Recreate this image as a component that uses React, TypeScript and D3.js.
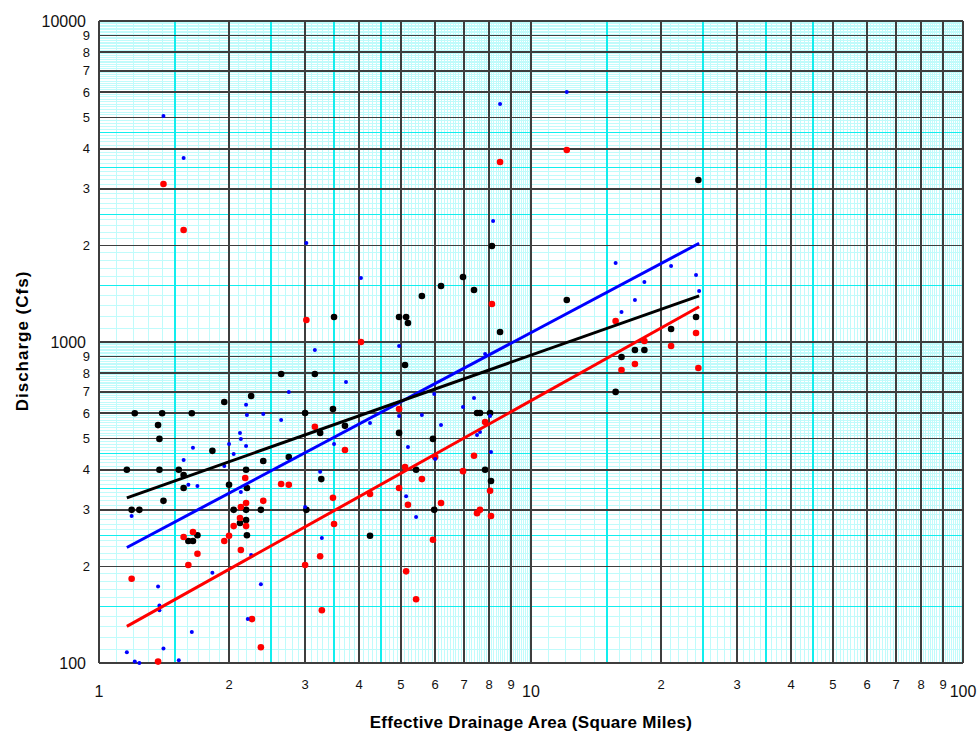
import React, { useEffect, useRef } from "react";
import * as d3 from "d3";

// [drainage area (sq mi), discharge (cfs)]
const blackPoints: [number, number][] = [
  [1.16, 400], [1.19, 300], [1.24, 300], [1.21, 600], [1.40, 600], [1.64, 600], [1.37, 551], [1.38, 499],
  [1.38, 400], [1.41, 320], [1.53, 400], [1.57, 385], [1.57, 351], [1.61, 240], [1.65, 240], [1.69, 250],
  [1.83, 458], [1.95, 650], [2.0, 359], [2.05, 300], [2.12, 273], [2.20, 351], [2.19, 400], [2.19, 300],
  [2.19, 279], [2.20, 250], [2.25, 679], [2.37, 300], [2.40, 426], [2.64, 795], [2.75, 438], [3.0, 601],
  [3.02, 300], [3.16, 795], [3.25, 521], [3.27, 374], [3.48, 618], [3.50, 1196], [3.71, 548], [4.24, 249],
  [4.95, 1196], [5.14, 1196], [5.19, 1146], [4.95, 521], [5.11, 848], [5.42, 400], [5.59, 1391], [5.93, 499],
  [5.97, 300], [6.19, 1494], [6.96, 1594], [7.38, 1452], [7.50, 601], [7.62, 601], [7.83, 400], [8.04, 601],
  [8.08, 369], [8.12, 1991], [8.48, 1074], [12.1, 1351], [15.7, 699], [16.2, 898], [17.4, 944], [18.3, 944],
  [21.1, 1098], [24.1, 1196], [24.4, 3196],
];

const redPoints: [number, number][] = [
  [1.19, 183], [1.37, 101], [1.41, 3106], [1.57, 247], [1.57, 2233], [1.61, 202], [1.65, 256], [1.69, 219],
  [1.95, 240], [2.0, 249], [2.05, 267], [2.12, 283], [2.13, 306], [2.13, 225], [2.18, 377], [2.19, 315],
  [2.19, 267], [2.26, 137], [2.37, 112], [2.40, 320], [2.64, 361], [2.75, 359], [3.0, 202], [3.02, 1171],
  [3.16, 544], [3.25, 215], [3.28, 146], [3.48, 327], [3.50, 271], [3.71, 461], [4.04, 1000], [4.24, 336],
  [4.95, 618], [4.95, 351], [5.11, 408], [5.14, 193], [5.19, 311], [5.42, 158], [5.59, 374], [5.93, 242],
  [6.0, 438], [6.19, 315], [6.96, 396], [7.38, 442], [7.50, 293], [7.62, 300], [7.83, 563], [8.04, 344],
  [8.08, 287], [8.12, 1313], [8.48, 3637], [12.1, 3964], [15.7, 1163], [16.2, 818], [17.4, 854], [18.3, 1007],
  [21.1, 972], [24.1, 1067], [24.4, 830],
];

const bluePoints: [number, number][] = [
  [1.41, 5058], [1.57, 3743], [3.02, 2034], [8.48, 5513], [12.1, 6008], [8.17, 2382], [15.7, 1763], [21.1, 1725],
  [18.3, 1538], [24.1, 1617], [24.5, 1442], [17.4, 1351], [16.2, 1240], [4.04, 1583], [3.16, 944], [4.95, 972],
  [3.73, 751], [7.83, 918], [5.97, 689], [4.24, 559], [4.95, 588], [5.59, 592], [6.19, 551], [6.96, 627],
  [7.38, 669], [8.04, 588], [3.50, 481], [5.19, 471], [7.50, 513], [7.62, 524], [8.08, 454], [6.0, 432],
  [5.14, 331], [5.42, 285], [3.25, 394], [3.0, 306], [3.28, 245], [2.75, 699], [2.19, 637], [2.20, 592],
  [2.40, 597], [2.64, 572], [2.12, 521], [2.13, 499], [2.19, 474], [2.0, 481], [2.05, 448], [1.65, 468],
  [1.57, 429], [1.95, 411], [1.61, 359], [1.69, 356], [2.13, 341], [1.19, 287], [2.25, 217], [1.83, 191],
  [2.37, 176], [1.37, 173], [1.38, 151], [1.38, 146], [1.64, 125], [2.21, 137], [1.41, 111], [1.16, 108],
  [1.21, 101], [1.24, 100], [1.53, 102],
];

// fitted lines, end points
const fitX = [1.16, 24.5];
const blackFit = [327, 1393];
const blueFit = [229, 2030];
const redFit = [130, 1288];

const bigXTicks = [1, 10, 100];
const bigXLabels = ["1", "10", "100"];
const bigYTicks = [100, 1000, 10000];
const bigYLabels = ["100", "1000", "10000"];
const smallDigits = ["2", "3", "4", "5", "6", "7", "8", "9"];

const W = 979, H = 734;
const FONT = "'Liberation Sans', Arial, sans-serif";

function App() {
  const ref = useRef<SVGSVGElement>(null);

  useEffect(() => {
    const svg = d3.select(ref.current);
    svg.selectAll("*").remove();

    const x = d3.scaleLog().domain([1, 100]).range([99, 963]);
    const y = d3.scaleLog().domain([100, 10000]).range([663, 21]);

    // grid values for log paper
    const gridVals = (decades: number[], last: number) => {
      const fine: number[] = [], mid: number[] = [], major: number[] = [];
      decades.forEach(dec => {
        for (let i = 10; i < 100; i++) {
          const v = (dec * i) / 10;
          if (i % 10 === 0) major.push(v);
          else if (i % 10 === 5 && i < 50) mid.push(v);
          else fine.push(v);
        }
      });
      major.push(last);
      return { fine, mid, major };
    };
    const gx = gridVals([1, 10], 100);
    const gy = gridVals([100, 1000], 10000);

    const grid = svg.append("g").attr("shape-rendering", "crispEdges");
    const drawV = (vals: number[], color: string, w: number) =>
      grid.append("g").selectAll("line").data(vals).enter().append("line")
        .attr("x1", d => x(d)).attr("x2", d => x(d))
        .attr("y1", 21).attr("y2", 663)
        .attr("stroke", color).attr("stroke-width", w);
    const drawH = (vals: number[], color: string, w: number) =>
      grid.append("g").selectAll("line").data(vals).enter().append("line")
        .attr("y1", d => y(d)).attr("y2", d => y(d))
        .attr("x1", 99).attr("x2", 963)
        .attr("stroke", color).attr("stroke-width", w);

    drawV(gx.fine, "#c0fbfb", 1);
    drawH(gy.fine, "#c0fbfb", 1);
    drawV(gx.mid, "#12eeee", 1.5);
    drawH(gy.mid, "#12eeee", 1.5);
    drawV(gx.major, "#3e3e3e", 1.6);
    drawH(gy.major, "#3e3e3e", 1.6);

    // points
    const dots = (pts: [number, number][], color: string, r: number) =>
      svg.append("g").selectAll("circle").data(pts).enter().append("circle")
        .attr("cx", d => x(d[0])).attr("cy", d => y(d[1]))
        .attr("r", r).attr("fill", color);
    dots(blackPoints, "#000000", 3.3);
    dots(redPoints, "#ff0000", 3.3);
    dots(bluePoints, "#0000ff", 2);

    // fit lines
    const line = d3.line<number>().x((d, i) => x(fitX[i])).y(d => y(d));
    [[blueFit, "#0000ff"], [blackFit, "#000000"], [redFit, "#ff0000"]].forEach(([vals, c]) => {
      svg.append("path").attr("d", line(vals as number[]))
        .attr("fill", "none").attr("stroke", c as string).attr("stroke-width", 3);
    });

    // tick labels
    const lab = svg.append("g").attr("font-family", FONT).attr("fill", "#111");
    bigXTicks.forEach((v, i) => {
      lab.append("text").attr("x", x(v)).attr("y", 697).attr("text-anchor", "middle")
        .attr("font-size", 16).text(bigXLabels[i]);
    });
    [1, 10].forEach(dec => {
      smallDigits.forEach((s, i) => {
        lab.append("text").attr("x", x(dec * (i + 2))).attr("y", 689).attr("text-anchor", "middle")
          .attr("font-size", 13).text(s);
      });
    });
    bigYTicks.forEach((v, i) => {
      lab.append("text").attr("x", 86).attr("y", y(v) + 6).attr("text-anchor", "end")
        .attr("font-size", 16).text(bigYLabels[i]);
    });
    [100, 1000].forEach(dec => {
      smallDigits.forEach((s, i) => {
        lab.append("text").attr("x", 90).attr("y", y(dec * (i + 2)) + 4.5).attr("text-anchor", "end")
          .attr("font-size", 13).text(s);
      });
    });

    // axis titles
    svg.append("text").attr("transform", "translate(28,341) rotate(-90)")
      .attr("text-anchor", "middle").attr("font-family", FONT).attr("font-weight", "bold")
      .attr("font-size", 17).attr("letter-spacing", 1).text("Discharge (Cfs)");
    svg.append("text").attr("x", 531).attr("y", 728)
      .attr("text-anchor", "middle").attr("font-family", FONT).attr("font-weight", "bold")
      .attr("font-size", 17).attr("letter-spacing", 0.3).text("Effective Drainage Area (Square Miles)");
  }, []);

  return (
    <div style={{ position: "absolute", left: 0, top: 0 }}>
      <svg ref={ref} width={W} height={H} style={{ display: "block", background: "#fff" }} />
    </div>
  );
}

export default App;
